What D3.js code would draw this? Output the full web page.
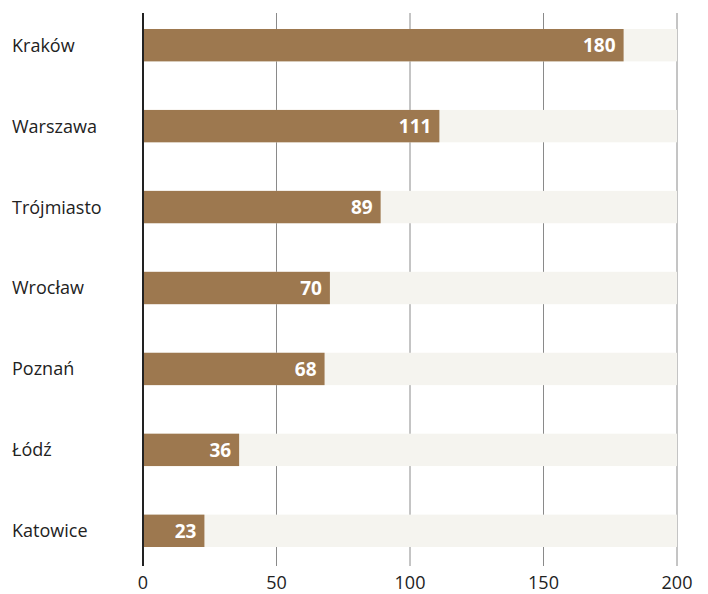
<!doctype html>
<head>
  <meta charset="utf-8">
  <title>miasta</title>
  <style>
    body { margin: 0; background: #fff; }
    text { font-family: "Open Sans", "Noto Sans", sans-serif; }
  </style>
</head>
<body>
  <script src="https://d3js.org/d3.v7.min.js"></script>
  <svg id="chart" width="708" height="594"></svg>
  <script>
  const cities = ["Kraków", "Warszawa", "Trójmiasto", "Wrocław", "Poznań", "Łódź", "Katowice"];
  const counts = [180, 111, 89, 70, 68, 36, 23];
  const maxValue = 200;
  const ticks = [0, 50, 100, 150, 200];

  let svg = d3.select("#chart");

  let x = d3.scaleLinear()
    .domain([0, maxValue])
    .range([143, 677]);

  let y = d3.scaleBand()
    .domain(cities)
    .range([12, 564])
    .paddingInner(0.6)
    .paddingOuter(0.21);

  // gridlines
  svg.append("g")
    .selectAll("line")
    .data(ticks.slice(1))
    .enter()
    .append("line")
    .attr("x1", d => x(d)).attr("x2", d => x(d))
    .attr("y1", 13).attr("y2", 566)
    .attr("stroke", "#8a8a8a")
    .attr("stroke-width", 1);

  // background bars to the max
  svg.append("g")
    .selectAll("rect")
    .data(cities)
    .enter()
    .append("rect")
    .attr("x", x(0))
    .attr("y", d => y(d))
    .attr("width", x(maxValue) - x(0))
    .attr("height", y.bandwidth())
    .attr("fill", "#f5f4ef");

  // value bars
  svg.append("g")
    .selectAll("rect")
    .data(counts)
    .enter()
    .append("rect")
    .attr("x", x(0))
    .attr("y", (d, i) => y(cities[i]))
    .attr("width", d => x(d) - x(0))
    .attr("height", y.bandwidth())
    .attr("fill", "#9d784f");

  // value labels
  svg.append("g")
    .selectAll("text")
    .data(counts)
    .enter()
    .append("text")
    .attr("x", d => x(d) - 8)
    .attr("y", (d, i) => y(cities[i]) + y.bandwidth() / 2)
    .attr("dy", "0.36em")
    .attr("text-anchor", "end")
    .attr("fill", "#fff")
    .attr("font-size", 19)
    .attr("font-weight", "bold")
    .text(d => d);

  // category labels
  svg.append("g")
    .selectAll("text")
    .data(cities)
    .enter()
    .append("text")
    .attr("x", 12)
    .attr("y", d => y(d) + y.bandwidth() / 2)
    .attr("dy", "0.36em")
    .attr("fill", "#222")
    .attr("font-size", 18)
    .text(d => d);

  // zero axis line
  svg.append("line")
    .attr("x1", x(0)).attr("x2", x(0))
    .attr("y1", 13).attr("y2", 566)
    .attr("stroke", "#222")
    .attr("stroke-width", 2);

  // tick labels
  svg.append("g")
    .selectAll("text")
    .data(ticks)
    .enter()
    .append("text")
    .attr("x", d => x(d))
    .attr("y", 589)
    .attr("text-anchor", "middle")
    .attr("fill", "#222")
    .attr("font-size", 18)
    .text(d => d);
  </script>
</body>
